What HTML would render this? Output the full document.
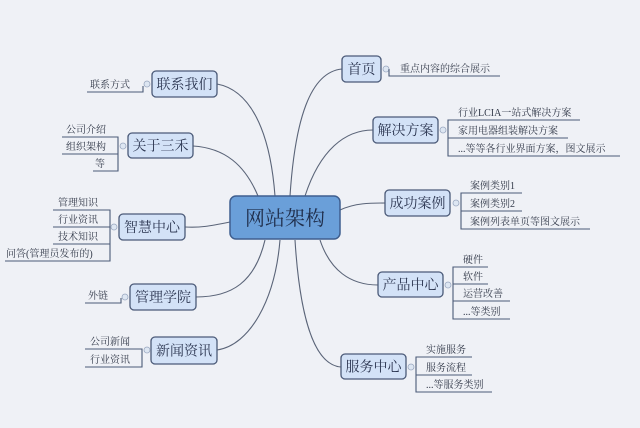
<!DOCTYPE html>
<html><head><meta charset="utf-8"><style>
html,body{margin:0;padding:0;background:#eff1f6;}
svg{display:block;}
text{font-family:"Liberation Serif","Noto Serif CJK SC",serif;fill:#333a4a;}
.n{fill:#d3e2f7;stroke:#4b5a78;stroke-width:1.3;}
.nt{font-size:14px;fill:#2b3550;}
.l{font-size:10px;}
.c{fill:none;stroke:#5a6478;stroke-width:1.1;}
.u{fill:none;stroke:#4b5a78;stroke-width:1.1;}
.o{fill:#dde6f2;stroke:#9aa8c0;stroke-width:0.8;}
</style></head><body>
<svg width="640" height="428" viewBox="0 0 640 428">
<path class="c" d="M275,196 C270,130 250,90 217,84"/>
<path class="c" d="M258,196 C245,165 225,148 193,146"/>
<path class="c" d="M230,222 C210,226 200,228 185,227"/>
<path class="c" d="M265,240 C255,282 232,297 196,297"/>
<path class="c" d="M280,240 C275,300 250,345 217,350"/>
<path class="c" d="M290,196 C295,120 310,72 342,69"/>
<path class="c" d="M305,196 C320,150 345,130 373,130"/>
<path class="c" d="M340,210 C355,203 370,203 385,203"/>
<path class="c" d="M320,240 C330,270 350,285 378,285"/>
<path class="c" d="M295,240 C300,320 315,365 341,367"/>

<rect x="230" y="196" width="110" height="43" rx="6" fill="#6a9fd9" stroke="#3f5f8f" stroke-width="1.5"/>
<text x="285" y="225" text-anchor="middle" style="font-size:20px;fill:#1f2d4a">网站架构</text>

<rect class="n" x="152" y="71" width="65" height="26" rx="4"/><text class="nt" x="184.5" y="89" text-anchor="middle">联系我们</text>
<rect class="n" x="128" y="133" width="65" height="25" rx="4"/><text class="nt" x="160.5" y="150.5" text-anchor="middle">关于三禾</text>
<rect class="n" x="119" y="214" width="66" height="26" rx="4"/><text class="nt" x="152" y="232" text-anchor="middle">智慧中心</text>
<rect class="n" x="130" y="284" width="66" height="26" rx="4"/><text class="nt" x="163" y="302" text-anchor="middle">管理学院</text>
<rect class="n" x="151" y="337" width="66" height="27" rx="4"/><text class="nt" x="184" y="355.5" text-anchor="middle">新闻资讯</text>

<rect class="n" x="342" y="56" width="39" height="26" rx="4"/><text class="nt" x="361.5" y="74" text-anchor="middle">首页</text>
<rect class="n" x="373" y="117" width="65" height="26" rx="4"/><text class="nt" x="405.5" y="135" text-anchor="middle">解决方案</text>
<rect class="n" x="385" y="190" width="65" height="26" rx="4"/><text class="nt" x="417.5" y="208" text-anchor="middle">成功案例</text>
<rect class="n" x="378" y="272" width="65" height="25" rx="4"/><text class="nt" x="410.5" y="289.5" text-anchor="middle">产品中心</text>
<rect class="n" x="341" y="354" width="65" height="25" rx="4"/><text class="nt" x="373.5" y="371.5" text-anchor="middle">服务中心</text>

<path class="u" d="M87,92 H143 V86"/><circle class="o" cx="147" cy="84" r="3"/>
<text class="l" x="90" y="88">联系方式</text>

<path class="u" d="M62,137 H118 V171 H93 M62,154 H118"/><circle class="o" cx="123" cy="146" r="3"/>
<text class="l" x="66" y="133">公司介绍</text><text class="l" x="66" y="150">组织架构</text><text class="l" x="95" y="167">等</text>

<path class="u" d="M53,210 H110 V261 H5 M53,227 H110 M53,244 H110"/><circle class="o" cx="114" cy="227" r="3"/>
<text class="l" x="58" y="206">管理知识</text><text class="l" x="58" y="223">行业资讯</text><text class="l" x="58" y="240">技术知识</text><text class="l" x="6" y="257">问答(管理员发布的)</text>

<path class="u" d="M85,303 H121 V298"/><circle class="o" cx="125" cy="297" r="3"/>
<text class="l" x="88" y="299">外链</text>

<path class="u" d="M85,349 H142 V367 H85"/><circle class="o" cx="147" cy="350" r="3"/>
<text class="l" x="90" y="345">公司新闻</text><text class="l" x="90" y="363">行业资讯</text>

<circle class="o" cx="386" cy="69" r="3"/><path class="u" d="M389,69 V76 H500"/>
<text class="l" x="400" y="72">重点内容的综合展示</text>

<circle class="o" cx="443" cy="130" r="3"/>
<path class="u" d="M580,120 H448 V156 H620 M448,138 H568"/>
<text class="l" x="458" y="116">行业LCIA一站式解决方案</text><text class="l" x="458" y="134">家用电器组装解决方案</text><text class="l" x="458" y="152">...等等各行业界面方案，图文展示</text>

<circle class="o" cx="456" cy="203" r="3"/>
<path class="u" d="M522,193 H461 V229 H590 M461,211 H522"/>
<text class="l" x="470" y="189">案例类别1</text><text class="l" x="470" y="207">案例类别2</text><text class="l" x="470" y="225">案例列表单页等图文展示</text>

<circle class="o" cx="448" cy="285" r="3"/>
<path class="u" d="M488,267 H453 V319 H510 M453,284 H488 M453,301 H510"/>
<text class="l" x="463" y="263">硬件</text><text class="l" x="463" y="280">软件</text><text class="l" x="463" y="297">运营改善</text><text class="l" x="463" y="315">...等类别</text>

<circle class="o" cx="411" cy="367" r="3"/>
<path class="u" d="M472,357 H416 V392 H492 M416,375 H472"/>
<text class="l" x="426" y="353">实施服务</text><text class="l" x="426" y="371">服务流程</text><text class="l" x="426" y="388">...等服务类别</text>
</svg>
</body></html>
